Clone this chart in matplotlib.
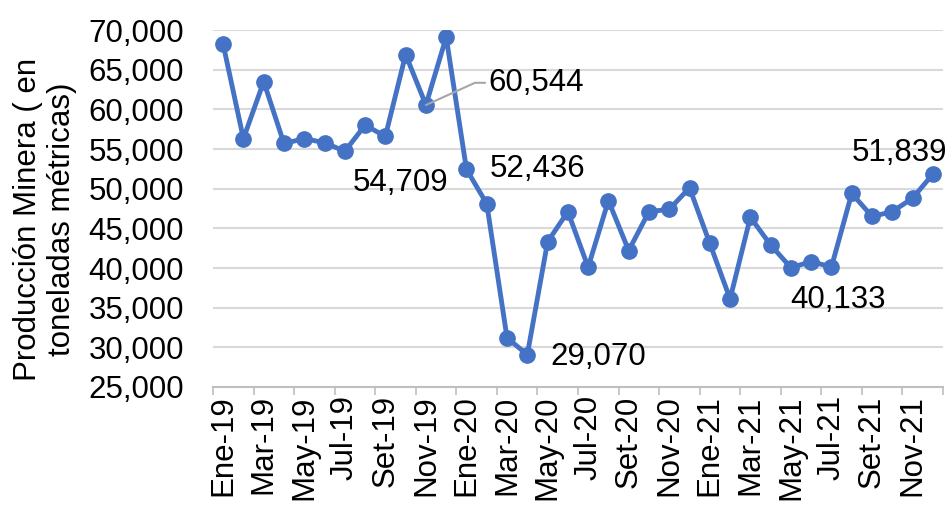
import matplotlib
matplotlib.use("Agg")
import matplotlib.pyplot as plt
import numpy as np

months = ["Ene", "Feb", "Mar", "Abr", "May", "Jun", "Jul", "Ago", "Set", "Oct", "Nov", "Dic"]
years = ["19", "20", "21"]
categories = [f"{m}-{y}" for y in years for m in months]

values = [68200, 56300, 63500, 55700, 56300, 55800, 54709, 58000, 56600, 66900, 60544, 69100,
          52436, 48100, 31200, 29070, 43300, 47100, 40100, 48500, 42200, 47100, 47400, 50100,
          43100, 36100, 46400, 42900, 40050, 40800, 40133, 49400, 46500, 47100, 48800, 51839]

# labelled points: index -> (offset x pt, offset y pt)
label_idx = [6, 10, 12, 15, 30, 35]
label_off = {6: (40, -23), 10: (79, 16), 12: (51, 0), 15: (51, -1.5), 30: (5, -24), 35: (-24, 15)}

yticks = list(range(25000, 70001, 5000))

plt.rcParams['font.family'] = ['Liberation Sans', 'DejaVu Sans']
FS = 22.5

fig = plt.figure(figsize=(9.5, 5.09), dpi=100)
ax = fig.add_axes([213/950, (509-387)/509, (943-213)/950, (387-30)/509])

x = np.arange(len(values))
ax.plot(x, values, color='#4472C4', lw=3.5, marker='o', markersize=11, zorder=3, solid_joinstyle='round')

ax.set_xlim(-0.5, len(values) - 0.5)
ax.set_ylim(25000, 70000)
ax.set_yticks(yticks)
ax.set_yticklabels([f"{v:,}" for v in yticks], fontsize=FS)
ax.tick_params(axis='y', length=0, pad=21)
ax.grid(axis='y', color='#D9D9D9', lw=1.5, zorder=0)

# x: major ticks at category boundaries, labels at every other category
ax.set_xticks(np.arange(-0.5, len(values), 2))
ax.set_xticklabels([])
ax.tick_params(axis='x', which='major', length=6, width=1.2, color='#BFBFBF')
ax.set_xticks(x[::2], minor=True)
ax.set_xticklabels(categories[::2], minor=True, rotation=90, fontsize=FS)
ax.tick_params(axis='x', which='minor', length=0, pad=6)

for s in ['left', 'right', 'top']:
    ax.spines[s].set_visible(False)
ax.spines['bottom'].set_color('#BFBFBF')
ax.spines['bottom'].set_linewidth(1.5)

ax.set_ylabel("Producción Minera ( en\ntoneladas métricas)", fontsize=FS, linespacing=1.2)
ax.yaxis.set_label_coords(-0.186, 0.47)

for i in label_idx:
    dx, dy = label_off[i]
    if i == 10:
        ax.annotate(f"{values[i]:,}", xy=(i, values[i]), xytext=(dx, dy), textcoords='offset points',
                    ha='center', va='center', fontsize=FS, zorder=5,
                    arrowprops=dict(arrowstyle='-', color='#A6A6A6', lw=1.5, shrinkA=0, shrinkB=0,
                                    connectionstyle='angle,angleA=0,angleB=24.4,rad=0'))
    else:
        ax.annotate(f"{values[i]:,}", xy=(i, values[i]), xytext=(dx, dy), textcoords='offset points',
                    ha='center', va='center', fontsize=FS, zorder=5)

fig.savefig("out.png", dpi=100)
